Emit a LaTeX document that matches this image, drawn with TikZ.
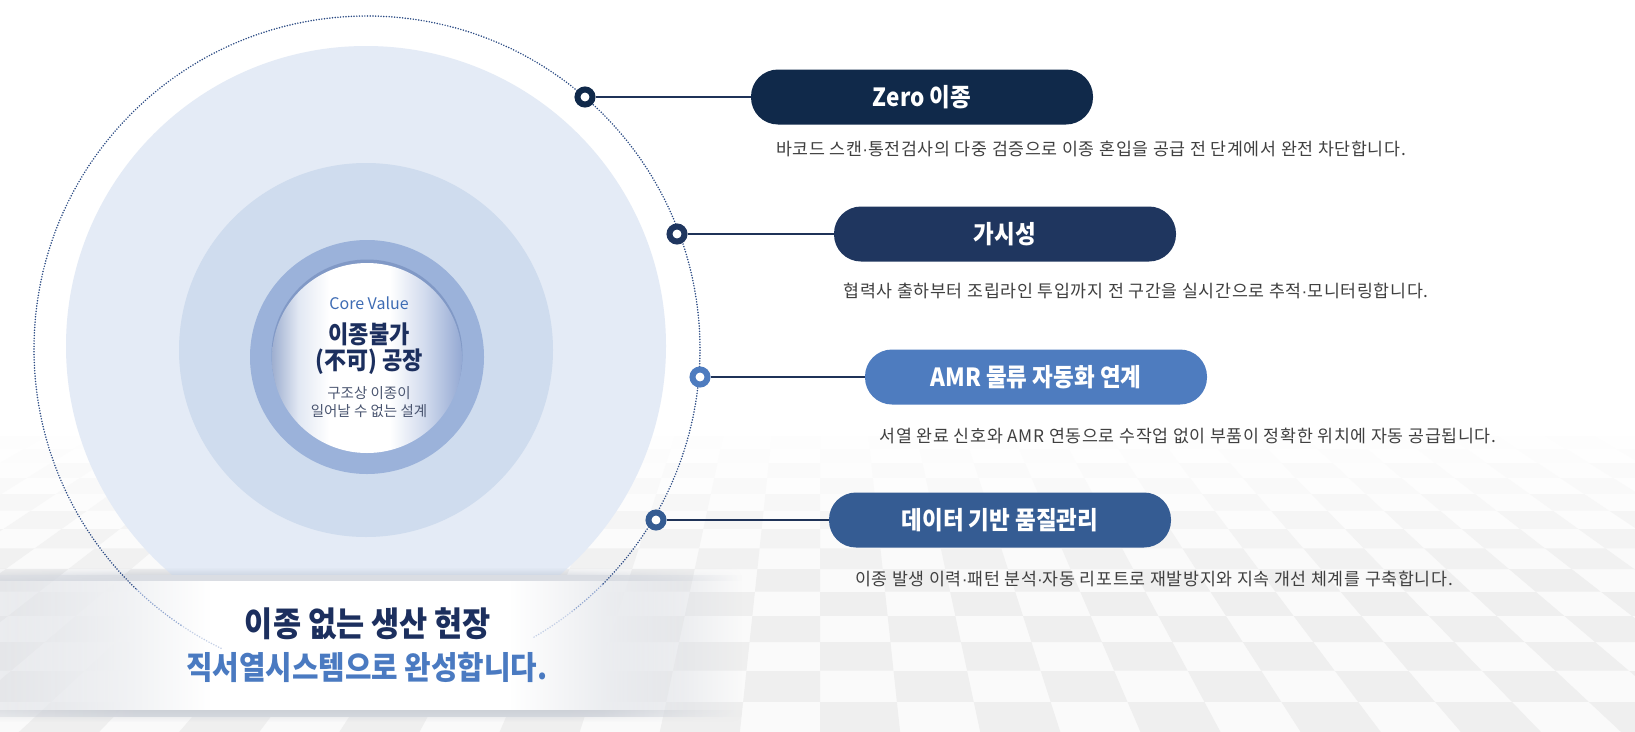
\documentclass[tikz,border=0pt]{standalone}
\usepackage{fontspec}
\setmainfont{Noto Sans CJK KR}
\newfontfamily\krc[FakeStretch=0.9]{Noto Sans CJK KR}
\newfontfamily\krd[LetterSpace=4]{Noto Sans CJK KR}
\newfontfamily\latf{Liberation Sans}
\newcommand\mdot{{\latf ·}}
\usetikzlibrary{fadings}
\definecolor{navyA}{HTML}{10294A}
\definecolor{navyB}{HTML}{1F365F}
\definecolor{blueC}{HTML}{4E7CBF}
\definecolor{blueD}{HTML}{355C93}
\definecolor{lineC}{HTML}{1F3358}
\definecolor{paleC}{HTML}{E4EBF6}
\definecolor{midC}{HTML}{CFDCEE}
\definecolor{ringC}{HTML}{9BB2DA}
\definecolor{ringD}{HTML}{8199C6}
\definecolor{dotC}{HTML}{2B4A84}
\definecolor{dotM}{HTML}{8FA5CF}
\definecolor{dotL}{HTML}{C3CFE6}
\definecolor{descC}{HTML}{404040}
\definecolor{headC}{HTML}{1C2F5E}
\definecolor{subC}{HTML}{4A7AC1}
\definecolor{coreC}{HTML}{3E6CB4}
\definecolor{smallC}{HTML}{4A5570}
\definecolor{coreL}{HTML}{9EAFD0}
\definecolor{coreL2}{HTML}{E2E8F3}
\definecolor{coreR2}{HTML}{D3DCEE}
\definecolor{coreR}{HTML}{94A9D3}
\definecolor{bandG}{HTML}{DADDE3}
\definecolor{topSh}{HTML}{939DB0}
\definecolor{botSh}{HTML}{BFC3CA}
\pgfdeclarehorizontalshading{coreshade}{100bp}{color(0bp)=(coreL); color(25bp)=(coreL); color(32bp)=(coreL2); color(40bp)=(white); color(56bp)=(white); color(65bp)=(coreR2); color(75bp)=(coreR); color(100bp)=(coreR)}
\begin{tikzfadingfrompicture}[name=bandwhite, x=1pt, y=1pt]
  \shade[left color=transparent!100, right color=transparent!0] (-372,-66) rectangle (-160,66);
  \fill[transparent!0] (-160.5,-66) rectangle (140.5,66);
  \shade[left color=transparent!0, right color=transparent!100] (140,-66) rectangle (320,66);
  \fill[transparent!100] (319.5,-66) rectangle (372,66);
\end{tikzfadingfrompicture}
\begin{tikzfadingfrompicture}[name=bandgray, x=1pt, y=1pt]
  \shade[left color=transparent!55, right color=transparent!0] (-372,-72) rectangle (-230,72);
  \fill[transparent!0] (-230.5,-72) rectangle (230.5,72);
  \shade[left color=transparent!0, right color=transparent!100] (230,-72) rectangle (372,72);
\end{tikzfadingfrompicture}
\begin{tikzfadingfrompicture}[name=hfade, x=1pt, y=1pt]
  \shade[left color=transparent!40, right color=transparent!0] (-372,-400) rectangle (-250,400);
  \fill[transparent!0] (-250.5,-400) rectangle (200.5,400);
  \shade[left color=transparent!0, right color=transparent!100] (200,-400) rectangle (372,400);
\end{tikzfadingfrompicture}
\tikzset{
  pill/.style={rectangle, rounded corners=27pt, minimum width=342pt, minimum height=55pt, inner sep=0pt, text=white, font=\krc\bfseries\fontsize{25}{28}\selectfont},
  desc/.style={inner sep=0pt, text=descC, font=\krd\fontsize{17.3}{20}\selectfont},
  dotring/.style={circle, minimum size=15pt, inner sep=0pt, line width=6pt, fill=white, draw=#1},
  conn/.style={draw=lineC, line width=1.3pt},
  dotline/.style={line width=1.7pt, line cap=round, dash pattern=on 0pt off 2.7pt},
  txt/.style={inner sep=0pt},
}
\begin{document}
\begin{tikzpicture}[x=1pt, y=-1pt]
\useasboundingbox (0,0) rectangle (1635,731);
\fill[white] (0,0) rectangle (1635,731);
% floor
\foreach \m in {-6,...,15}{
  \pgfmathsetmacro{\yb}{10*(10000/(171.2+6.34*\m))-15}
  \pgfmathsetmacro{\yt}{10*(10000/(171.2+6.34*(\m+1)))-15}
  \pgfmathsetmacro{\sa}{(\yt+15)/746*80}
  \pgfmathsetmacro{\sb}{(\yb+15)/746*80}
  \pgfmathsetmacro{\fr}{max(0,min(1,((\yb+\yt)/2-430)/150))}
  \pgfmathtruncatemacro{\gv}{255-16*\fr}
  \pgfmathtruncatemacro{\wv}{255-5*\fr}
  \definecolor{rowW}{RGB}{\wv,\wv,\wv}
  \definecolor{rowG}{RGB}{\gv,\gv,\gv}
  \fill[rowW] (0,\yt) rectangle (1635,\yb);
  \foreach \k in {-24,...,23}{
    \pgfmathtruncatemacro{\tpar}{mod(\k+\m+100,2)}
    \ifnum\tpar=0
      \fill[rowG] ({820+\sa*\k},\yt) -- ({820+\sa*(\k+1)},\yt) -- ({820+\sb*(\k+1)},\yb) -- ({820+\sb*\k},\yb) -- cycle;
    \fi
  }
}
% circles
\fill[paleC] (366,346) circle[radius=300];
\fill[midC] (366,350) circle[radius=187];
\fill[ringC] (367,357) circle[radius=117];
\fill[ringD] (367,355) circle[radius=95.5];
\shade[shading=coreshade] (367,358) circle[radius=95];
% band
\foreach \j in {0,...,12}{
  \fill[topSh, opacity={0.42*(\j+1)/13}, path fading=hfade, fit fading=false, fading transform={shift={(370,646)}}] (0,568+\j) rectangle (742,569+\j);
}
\fill[bandG, path fading=bandgray, fit fading=false, fading transform={shift={(370,646)}}] (0,575) rectangle (742,717);
\fill[white, path fading=bandwhite, fit fading=false, fading transform={shift={(370,645.5)}}] (0,581) rectangle (742,710);
\foreach \j in {0,...,11}{
  \fill[botSh, opacity={0.45*(12-\j)/12}, path fading=hfade, fit fading=false, fading transform={shift={(370,646)}}] (0,710+\j) rectangle (742,711+\j);
}
% dotted circle
\draw[dotline, dotL] (367,349) ++(116:333) arc[start angle=116, end angle=124, radius=333];
\draw[dotline, dotM] (367,349) ++(124:333) arc[start angle=124, end angle=134, radius=333];
\draw[dotline, dotC] (367,349) ++(134:333) arc[start angle=134, end angle=405, radius=333];
\draw[dotline, dotM] (367,349) ++(405:333) arc[start angle=405, end angle=412, radius=333];
\draw[dotline, dotL] (367,349) ++(412:333) arc[start angle=412, end angle=420, radius=333];
% core texts
\node[txt, font=\fontsize{16}{18}\selectfont, text=coreC] (cv) at (369,303) {Core Value};
\node[txt, font=\krc\bfseries\fontsize{24.5}{28}\selectfont, text=headC] (c1) at (369,334) {이종불가};
\node[txt, font=\krc\bfseries\fontsize{24.5}{28}\selectfont, text=headC] (c2) at (369,362) {(不可) 공장};
\node[txt, font=\fontsize{14.5}{16}\selectfont, text=smallC] (c3) at (369,393) {구조상 이종이};
\node[txt, font=\fontsize{14.5}{16}\selectfont, text=smallC] (c4) at (369,411) {일어날 수 없는 설계};
% band texts
\node[txt, font=\krc\bfseries\fontsize{34}{36}\selectfont, text=headC] (h1) at (368,624) {이종 없는 생산 현장};
\node[txt, font=\krc\bfseries\fontsize{32}{36}\selectfont, text=subC] (h2) at (367,667) {직서열시스템으로 완성합니다.};
% items
\node[pill, fill=navyA] (p1) at (922,97) {Zero 이종};
\node[pill, fill=navyB] (p2) at (1005,234) {가시성};
\node[pill, fill=blueC] (p3) at (1036,377) {AMR 물류 자동화 연계};
\node[pill, fill=blueD] (p4) at (1000,520) {데이터 기반 품질관리};
\node[dotring=navyA] (d1) at (585,97) {};
\node[dotring=navyB] (d2) at (677,234) {};
\node[dotring=blueC] (d3) at (700,377) {};
\node[dotring=blueD] (d4) at (656,520) {};
\draw[conn] (d1) -- (p1);
\draw[conn] (d2) -- (p2);
\draw[conn] (d3) -- (p3);
\draw[conn] (d4) -- (p4);
\node[desc] (t1) at (1091,149) {바코드 스캔\mdot 통전검사의 다중 검증으로 이종 혼입을 공급 전 단계에서 완전 차단합니다.};
\node[desc] (t2) at (1136,291) {협력사 출하부터 조립라인 투입까지 전 구간을 실시간으로 추적\mdot 모니터링합니다.};
\node[desc] (t3) at (1188,436) {서열 완료 신호와 AMR 연동으로 수작업 없이 부품이 정확한 위치에 자동 공급됩니다.};
\node[desc] (t4) at (1154,579) {이종 발생 이력\mdot 패턴 분석\mdot 자동 리포트로 재발방지와 지속 개선 체계를 구축합니다.};
\end{tikzpicture}
\end{document}
